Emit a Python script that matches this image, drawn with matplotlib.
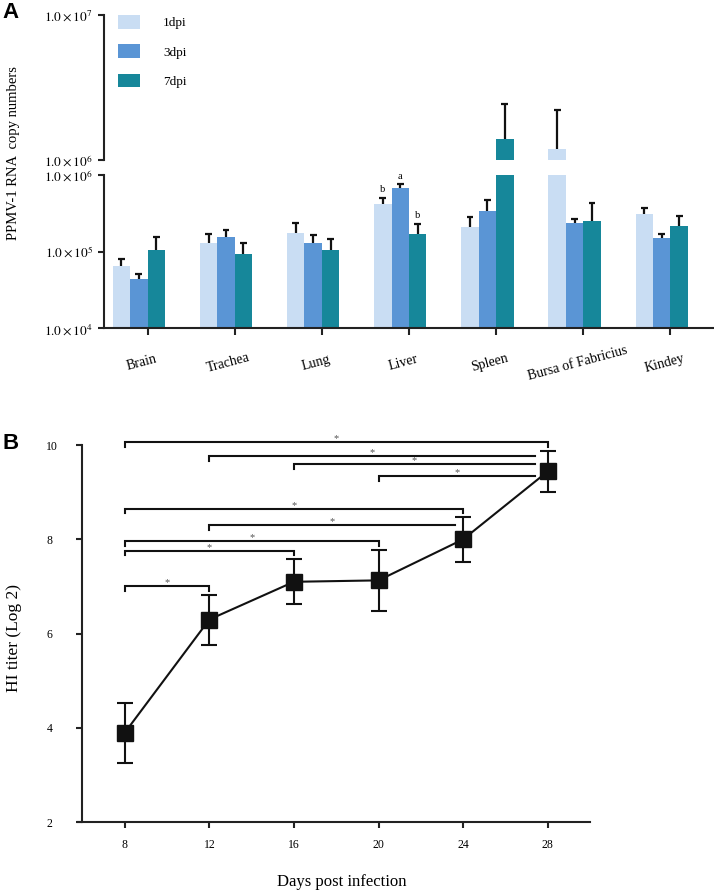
import matplotlib
matplotlib.use('Agg')
import matplotlib.pyplot as plt
import numpy as np
from matplotlib.patches import Patch
from matplotlib.ticker import NullLocator
from matplotlib.transforms import ScaledTranslation

plt.rcParams['font.family'] = ['Liberation Serif', 'DejaVu Serif']
plt.rcParams['mathtext.fontset'] = 'stix'

# panel A: viral RNA copies per tissue
tissues = ['Brain', 'Trachea', 'Lung', 'Liver', 'Spleen', 'Bursa of Fabricius', 'Kindey']
groups = ['1dpi', '3dpi', '7dpi']
copies_1dpi = [6.5e4, 1.28e5, 1.75e5, 4.2e5, 2.09e5, 1.19e6, 3.06e5]
copies_3dpi = [4.4e4, 1.53e5, 1.29e5, 6.8e5, 3.41e5, 2.38e5, 1.5e5]
copies_7dpi = [1.05e5, 9.3e4, 1.05e5, 1.7e5, 1.4e6, 2.51e5, 2.16e5]
err_1dpi = [1.4e4, 4.2e4, 6.3e4, 8.5e4, 7.6e4, 1.01e6, 6.1e4]
err_3dpi = [7.5e3, 3.7e4, 3.5e4, 8.0e4, 1.26e5, 2.8e4, 2.0e4]
err_7dpi = [4.8e4, 3.6e4, 4.0e4, 6.1e4, 1.02e6, 1.76e5, 7.2e4]
liver_letters = ['b', 'a', 'b']

# panel B: HI titres
days = [8, 12, 16, 20, 24, 28]
hi_titer = [3.9, 6.3, 7.1, 7.13, 8.0, 9.44]
hi_sem = [0.64, 0.53, 0.48, 0.64, 0.47, 0.43]
sig_start = [8, 12, 16, 20, 8, 12, 8, 8, 8]
sig_end = [28, 27.4, 27.4, 27.4, 24, 23.6, 20, 16, 12]
sig_level = [10.06, 9.76, 9.59, 9.34, 8.65, 8.30, 7.96, 7.76, 7.01]

colors = ['#C9DDF3', '#5A95D5', '#16879A']
offsets = [-0.3, -0.1, 0.1]

W, H = 714, 891
fig = plt.figure(figsize=(W / 100, H / 100), dpi=100)


def px_axes(x0, y0, x1, y1):
    return fig.add_axes([x0 / W, 1 - y1 / H, (x1 - x0) / W, (y1 - y0) / H])


ax_top = px_axes(104, 15, 714, 160)
ax_bot = px_axes(104, 175, 714, 328.3)

series = [(copies_1dpi, err_1dpi), (copies_3dpi, err_3dpi), (copies_7dpi, err_7dpi)]
xs = np.arange(len(tissues))
for ax in (ax_top, ax_bot):
    ax.set_yscale('log')
    ax.set_xlim(-0.5, 6.5)
    for i, (vals, errs) in enumerate(series):
        vals = np.array(vals)
        errs = np.array(errs)
        x = xs + offsets[i]
        ax.bar(x, vals, width=0.2, color=colors[i], zorder=2)
        ax.vlines(x, vals, vals + errs, color='#111111', lw=1.6, zorder=3)
        ax.hlines(vals + errs, x - 0.04, x + 0.04, color='#111111', lw=1.6, zorder=3)
    ax.yaxis.set_minor_locator(NullLocator())
    ax.spines['right'].set_visible(False)
    ax.spines['top'].set_visible(False)
    for s in ax.spines.values():
        s.set_linewidth(1.5)
        s.set_color('#222222')
    ax.tick_params(width=1.5, length=4, color='#222222', labelsize=9.5, pad=4)

ax_top.set_ylim(1e6, 1e7)
ax_top.set_yticks([1e6, 1e7])
ax_top.set_yticklabels([r'$1.0\times10^{6}$', r'$1.0\times10^{7}$'])
ax_top.spines['bottom'].set_visible(False)
ax_top.set_xticks([])

ax_bot.set_ylim(1e4, 1e6)
ax_bot.set_yticks([1e4, 1e5, 1e6])
ax_bot.set_yticklabels([r'$1.0\times10^{4}$', r'$1.0\times10^{5}$', r'$1.0\times10^{6}$'])
ax_bot.set_xticks(xs)
ax_bot.set_xticklabels(tissues, rotation=15, fontsize=10)
ax_bot.tick_params(axis='x', length=5, pad=20)
shift = ScaledTranslation(-6 / 100, 0, fig.dpi_scale_trans)
for lbl in ax_bot.get_xticklabels():
    lbl.set_verticalalignment('center')
    lbl.set_rotation_mode('anchor')
    lbl.set_transform(lbl.get_transform() + shift)

# letters above liver bars
liver = tissues.index('Liver')
for i, (vals, errs) in enumerate(series):
    top = vals[liver] + errs[liver]
    ax_bot.text(liver + offsets[i], top * 1.27, liver_letters[i], ha='center', va='center', fontsize=7.5)

handles = [Patch(facecolor=c) for c in colors]
fig.legend(handles, groups, loc='upper left', bbox_to_anchor=(118 / W, 1 - 15 / H),
           frameon=False, fontsize=9.5, handlelength=1.67, handleheight=1.2,
           labelspacing=1.15, handletextpad=1.75, borderpad=0, borderaxespad=0)

fig.text(14 / W, 1 - 153.5 / H, 'PPMV-1 RNA  copy numbers', rotation=90,
         ha='center', va='center', fontsize=10.5)
fig.text(2 / W, 1 - 13 / H, 'A', fontsize=16, fontweight='bold',
         family='Liberation Sans', ha='left', va='center')

# panel B
axb = px_axes(77.8, 435.6, 590, 822.3)
axb.errorbar(days, hi_titer, yerr=hi_sem, color='#111111', lw=1.5, marker='s',
             markersize=11.5, capsize=5.5, capthick=1.5, elinewidth=1.5, zorder=3)
axb.set_xlim(5.78, 30)
axb.set_ylim(2, 10.2)
axb.set_xticks(days)
axb.set_yticks([2, 4, 6, 8, 10])
axb.spines['right'].set_visible(False)
axb.spines['top'].set_visible(False)
axb.spines['left'].set_position(('data', 6))
axb.spines['left'].set_bounds(2, 10)
for s in axb.spines.values():
    s.set_linewidth(1.5)
    s.set_color('#222222')
axb.tick_params(width=1.5, length=4, color='#222222', labelsize=8.5)
axb.tick_params(axis='x', pad=8)
axb.tick_params(axis='y', pad=22)
for lbl in axb.get_yticklabels():
    lbl.set_horizontalalignment('left')

leg = 0.1
for x0, x1, lev in zip(sig_start, sig_end, sig_level):
    xsb = [x0, x0, x1]
    ysb = [lev - leg, lev, lev]
    if float(x1).is_integer():
        xsb.append(x1)
        ysb.append(lev - leg)
    axb.plot(xsb, ysb, color='#111111', lw=1.5, clip_on=False, solid_joinstyle='miter')
    axb.text((x0 + x1) / 2, lev + 0.07, '*', ha='center', va='center',
             fontsize=7.5, color='#555555')

fig.text(14 / W, 1 - 638 / H, 'HI titer (Log 2)', rotation=90,
         ha='center', va='center', fontsize=12.5)
fig.text(341.5 / W, 1 - 881.5 / H, 'Days post infection', ha='center', va='center', fontsize=12)
fig.text(2 / W, 1 - 444 / H, 'B', fontsize=16, fontweight='bold',
         family='Liberation Sans', ha='left', va='center')

fig.savefig('out.png', dpi=100)
